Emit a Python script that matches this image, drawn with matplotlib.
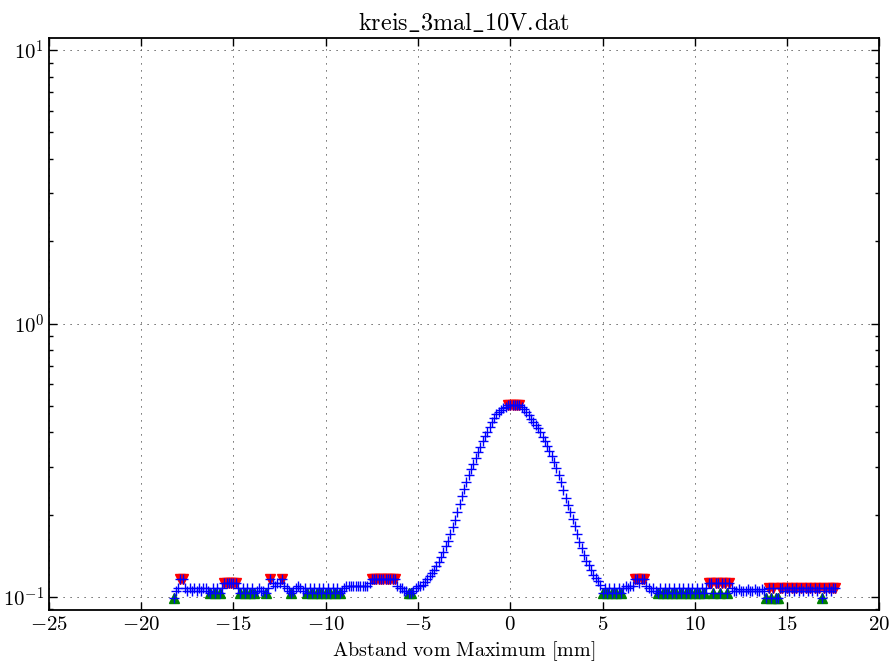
import numpy as np
import matplotlib
matplotlib.use("Agg")
import matplotlib.pyplot as plt
from matplotlib.ticker import FuncFormatter, LogLocator, NullFormatter

plt.rcParams['mathtext.fontset'] = 'cm'
plt.rcParams['font.family'] = 'serif'

# Messwerte (Spannung, normiert), Schrittweite 0.125 mm ab -18.25 mm
y = [
    0.0995, 0.1055, 0.1078, 0.1165, 0.1165, 0.1078, 0.1055, 0.1078,  # -18.25
    0.1055, 0.1078, 0.1055, 0.1078, 0.1055, 0.1078, 0.1078, 0.1055,  # -17.25
    0.1035, 0.1078, 0.1035, 0.1078, 0.1035, 0.1078, 0.1128, 0.1128,  # -16.25
    0.1128, 0.1128, 0.1128, 0.1128, 0.1078, 0.1035, 0.1078, 0.1035,  # -15.25
    0.1078, 0.1035, 0.1078, 0.1035, 0.1055, 0.1078, 0.1055, 0.1055,  # -14.25
    0.1035, 0.1078, 0.1165, 0.1128, 0.1100, 0.1128, 0.1128, 0.1165,  # -13.25
    0.1100, 0.1078, 0.1055, 0.1035, 0.1055, 0.1078, 0.1100, 0.1078,  # -12.25
    0.1055, 0.1078, 0.1035, 0.1078, 0.1035, 0.1078, 0.1035, 0.1078,  # -11.25
    0.1035, 0.1078, 0.1035, 0.1078, 0.1035, 0.1078, 0.1035, 0.1078,  # -10.25
    0.1035, 0.1055, 0.1078, 0.1100, 0.1100, 0.1100, 0.1100, 0.1100,  # -9.25
    0.1100, 0.1100, 0.1100, 0.1100, 0.1100, 0.1128, 0.1165, 0.1165,  # -8.25
    0.1165, 0.1165, 0.1165, 0.1165, 0.1165, 0.1165, 0.1165, 0.1165,  # -7.25
    0.1165, 0.1100, 0.1078, 0.1078, 0.1055, 0.1055, 0.1035, 0.1035,  # -6.25
    0.1055, 0.1078, 0.1100, 0.1100, 0.1106, 0.1135, 0.1164, 0.1194,  # -5.25
    0.1225, 0.1256, 0.1297, 0.1346, 0.1400, 0.1460, 0.1532, 0.1608,  # -4.25
    0.1700, 0.1804, 0.1914, 0.2045, 0.2189, 0.2343, 0.2484, 0.2634,  # -3.25
    0.2790, 0.2929, 0.3076, 0.3229, 0.3386, 0.3551, 0.3717, 0.3870,  # -2.25
    0.4029, 0.4190, 0.4352, 0.4521, 0.4677, 0.4764, 0.4842, 0.4910,  # -1.25
    0.4960, 0.5030, 0.5030, 0.5030, 0.5030, 0.5030, 0.5030, 0.4940,  # -0.25
    0.4860, 0.4743, 0.4615, 0.4494, 0.4376, 0.4260, 0.4147, 0.4002,  # 0.75
    0.3853, 0.3709, 0.3570, 0.3425, 0.3266, 0.3115, 0.2971, 0.2798,  # 1.75
    0.2625, 0.2459, 0.2302, 0.2163, 0.2042, 0.1928, 0.1811, 0.1695,  # 2.75
    0.1593, 0.1507, 0.1424, 0.1357, 0.1305, 0.1255, 0.1207, 0.1173,  # 3.75
    0.1142, 0.1105, 0.1035, 0.1078, 0.1035, 0.1078, 0.1035, 0.1078,  # 4.75
    0.1035, 0.1078, 0.1035, 0.1078, 0.1100, 0.1078, 0.1100, 0.1100,  # 5.75
    0.1165, 0.1165, 0.1128, 0.1165, 0.1165, 0.1100, 0.1078, 0.1055,  # 6.75
    0.1078, 0.1055, 0.1035, 0.1078, 0.1035, 0.1078, 0.1035, 0.1078,  # 7.75
    0.1035, 0.1078, 0.1035, 0.1078, 0.1035, 0.1078, 0.1035, 0.1078,  # 8.75
    0.1035, 0.1078, 0.1035, 0.1078, 0.1035, 0.1078, 0.1035, 0.1078,  # 9.75
    0.1128, 0.1128, 0.1035, 0.1128, 0.1128, 0.1035, 0.1128, 0.1128,  # 10.75
    0.1035, 0.1128, 0.1078, 0.1055, 0.1055, 0.1065, 0.1055, 0.1055,  # 11.75
    0.1055, 0.1065, 0.1055, 0.1055, 0.1065, 0.1055, 0.1055, 0.1065,  # 12.75
    0.1055, 0.0995, 0.1078, 0.0995, 0.1078, 0.0995, 0.0995, 0.1078,  # 13.75
    0.1078, 0.1055, 0.1078, 0.1055, 0.1078, 0.1055, 0.1078, 0.1055,  # 14.75
    0.1078, 0.1055, 0.1078, 0.1055, 0.1078, 0.1055, 0.1078, 0.1055,  # 15.75
    0.1078, 0.0995, 0.1078, 0.1055, 0.1078, 0.1055, 0.1078, 0.1078,  # 16.75
]
x = np.arange(len(y)) * 0.125 - 18.25

# gefundene Maxima / Minima (Position in mm)
max_x = [-17.875, -17.75, -15.5, -15.375, -15.25, -15.125, -15.0, -14.875,
         -13.0, -12.375, -7.5, -7.375, -7.25, -7.125, -7.0, -6.875, -6.75,
         -6.625, -6.5, -6.375, -6.25, -0.125, 0.0, 0.125, 0.25, 0.375, 0.5,
         6.75, 6.875, 7.125, 7.25, 10.75, 10.875, 11.125, 11.25, 11.5, 11.625,
         11.875, 14.0, 14.25, 14.625, 14.75, 15.0, 15.25, 15.5, 15.75, 16.0,
         16.25, 16.5, 16.75, 17.0, 17.25, 17.5, 17.625]
min_x = [-18.25, -16.25, -16.0, -15.75, -14.625, -14.375, -14.125, -13.875,
         -13.25, -11.875, -11.0, -10.75, -10.5, -10.25, -10.0, -9.75, -9.5,
         -9.25, -5.5, -5.375, 5.0, 5.25, 5.5, 5.75, 6.0, 8.0, 8.25, 8.5, 8.75,
         9.0, 9.25, 9.5, 9.75, 10.0, 10.25, 10.5, 11.0, 11.375, 11.75, 13.875,
         14.125, 14.375, 14.5, 16.875]

max_y = np.interp(max_x, x, y)
min_y = np.interp(min_x, x, y)

fig = plt.figure(figsize=(8.9, 6.68), dpi=100)
ax = fig.add_axes([0.055, 0.087, 0.933, 0.856])

ax.plot(max_x, max_y, 'v', color='red', markeredgecolor='red', markersize=7.5)
ax.plot(min_x, min_y, '^', color='green', markeredgecolor='green', markersize=7.5)
ax.plot(x, y, '+', color='blue', markersize=7.5, markeredgewidth=1.0)

ax.set_yscale('log')
ax.set_xlim(-25, 20)
ax.set_ylim(0.0897, 11.07)

ax.yaxis.set_major_locator(LogLocator(base=10))
ax.yaxis.set_minor_locator(LogLocator(base=10, subs=np.arange(2, 10)))
ax.yaxis.set_minor_formatter(NullFormatter())
ax.yaxis.set_major_formatter(FuncFormatter(lambda v, p: r'$10^{%d}$' % round(np.log10(v))))
ax.xaxis.set_major_formatter(FuncFormatter(lambda v, p: r'$%d$' % v))

ax.tick_params(which='both', direction='in', top=True, right=True, labelsize=15)
ax.tick_params(which='major', length=6, width=1)
ax.tick_params(which='minor', length=3, width=1)
for s in ax.spines.values():
    s.set_linewidth(1.3)

ax.grid(True, which='major', linestyle=(0, (1.2, 6)), color='0.25', linewidth=0.7)

ax.set_title(r'$\mathrm{kreis\_3mal\_10V.\!dat}$', fontsize=17.5)
ax.set_xlabel(r'$\mathrm{Abstand\ vom\ Maximum\ [mm]}$', fontsize=14.5, labelpad=4)

fig.savefig('out.png', dpi=100)
